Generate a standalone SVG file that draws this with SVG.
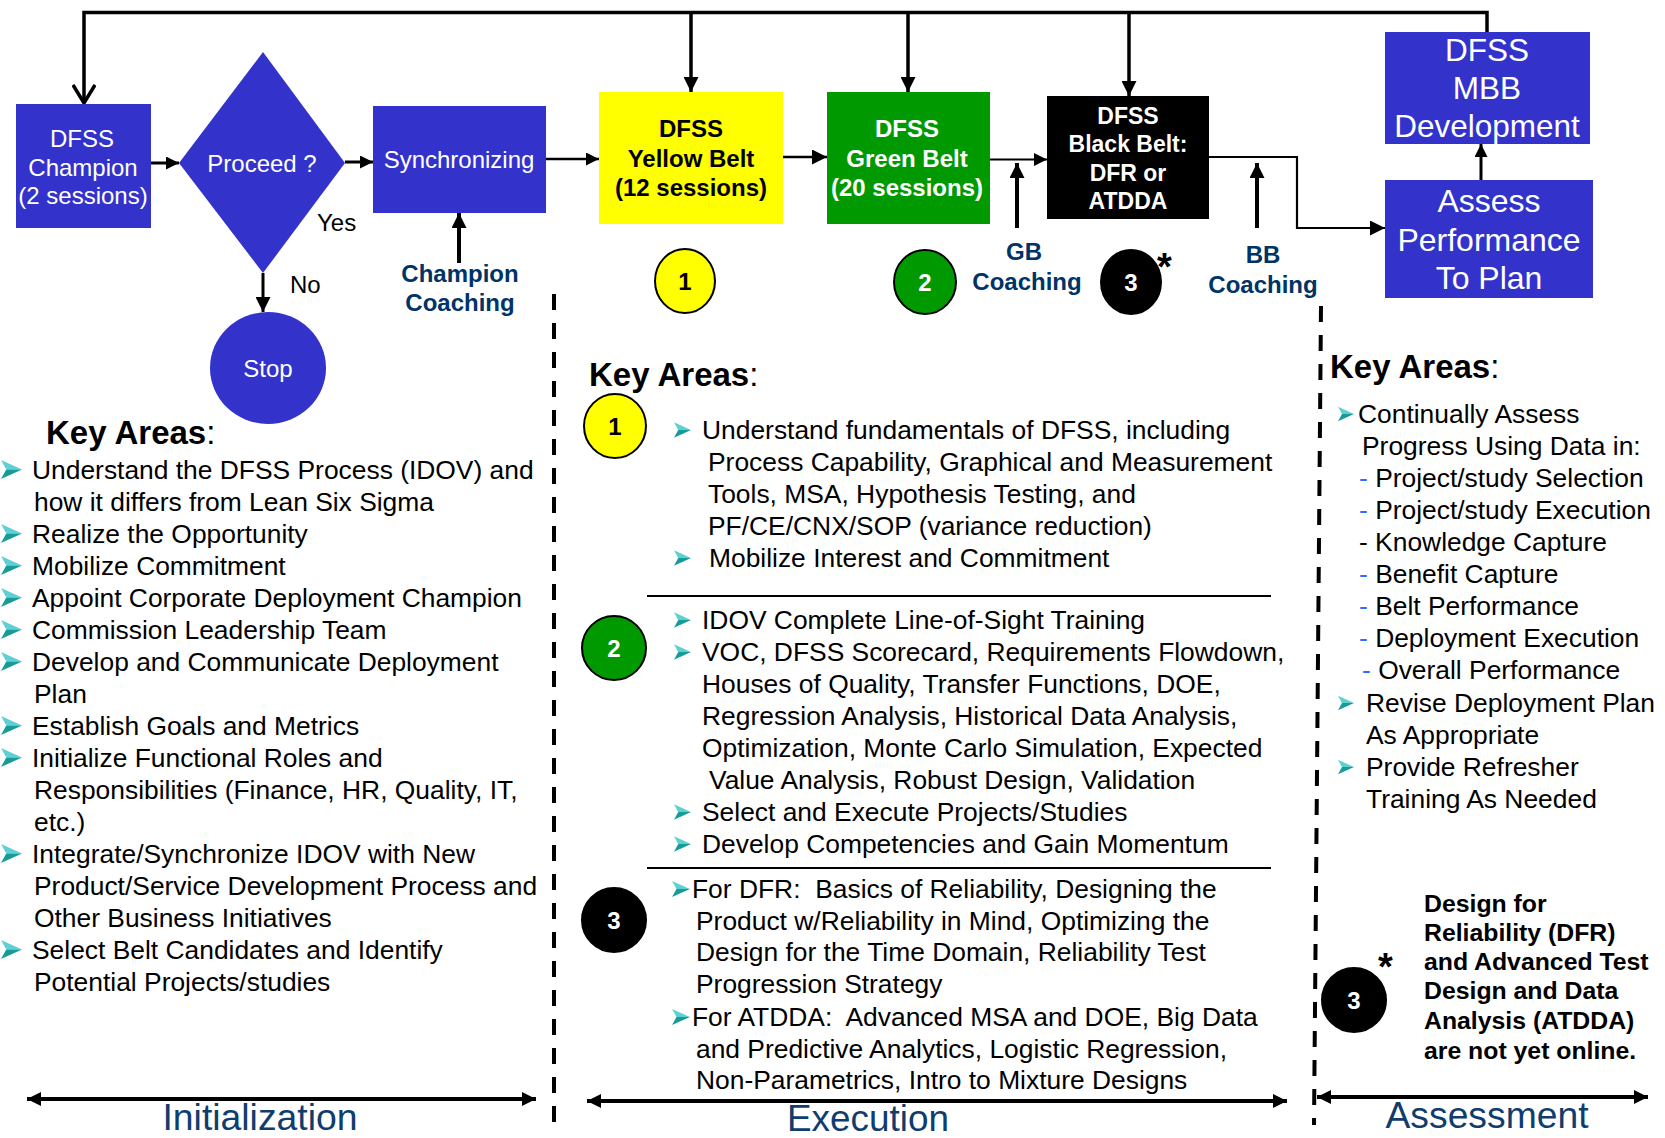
<svg xmlns="http://www.w3.org/2000/svg" xmlns:xlink="http://www.w3.org/1999/xlink" width="1665" height="1138" viewBox="0 0 1665 1138">
  <style>
    text { font-family: "Liberation Sans", Arial, Helvetica, sans-serif; }
    .blue { fill: #3333CC; }
    .w { fill: #FFFFFF; }
    .node24 { font-size: 24px; }
    .node32 { font-size: 31.5px; }
    .b { font-weight: bold; }
    .mid { text-anchor: middle; }
    .coach { font-size: 24px; font-weight: bold; fill: #003366; text-anchor: middle; }
    .body { font-size: 26.4px; fill: #000; }
    .key { font-size: 33px; font-weight: bold; fill: #000; }
    .note { font-size: 24.8px; font-weight: bold; fill: #000; }
    .phase { font-size: 36px; fill: #0F3D6E; text-anchor: middle; }
    .dash { fill: #3366FF; }
    .conn { fill: none; stroke: #000; }
    .badge { stroke: #000; stroke-width: 2; }
    .num { font-size: 24px; font-weight: bold; text-anchor: middle; }
    .star { font-size: 38px; font-weight: bold; fill: #000; }
    .divider { stroke: #000; stroke-width: 4; stroke-dasharray: 16 13; fill: none; }
  </style>
  <defs>
    <marker id="tri" viewBox="0 0 10 10" refX="10" refY="5" markerUnits="userSpaceOnUse" markerWidth="15" markerHeight="15" orient="auto">
      <path d="M0,0 L10,5 L0,10 z" fill="#000"/>
    </marker>
    <marker id="triS" viewBox="0 0 10 10" refX="10" refY="5" markerUnits="userSpaceOnUse" markerWidth="13" markerHeight="13" orient="auto">
      <path d="M0,0 L10,5 L0,10 z" fill="#000"/>
    </marker>
    <marker id="vee" viewBox="0 0 20 24" refX="19" refY="12" markerUnits="userSpaceOnUse" markerWidth="20" markerHeight="24" orient="auto">
      <path d="M1,1 L19,12 L1,23" fill="none" stroke="#000" stroke-width="3.5"/>
    </marker>
    <marker id="span" viewBox="0 0 10 10" refX="10" refY="5" markerUnits="userSpaceOnUse" markerWidth="14" markerHeight="14" orient="auto-start-reverse">
      <path d="M0,0 L10,5 L0,10 z" fill="#000"/>
    </marker>
    <symbol id="bul" viewBox="0 0 20 18">
      <polygon points="0,0 20,9 5,9" fill="#5FD0D0"/>
      <polygon points="5,9 20,9 0,18" fill="#179A9A"/>
    </symbol>
  </defs>

  <!-- connectors -->
  <g id="connectors">
    <polyline class="conn" stroke-width="3.5" points="1487,32 1487,12.5 84,12.5 84,103" marker-end="url(#vee)"/>
    <line class="conn" stroke-width="3.5" x1="691" y1="12.5" x2="691" y2="92" marker-end="url(#tri)"/>
    <line class="conn" stroke-width="3.5" x1="908" y1="12.5" x2="908" y2="92" marker-end="url(#tri)"/>
    <line class="conn" stroke-width="3.5" x1="1129" y1="12.5" x2="1129" y2="96" marker-end="url(#tri)"/>
    <line class="conn" stroke-width="3" x1="151" y1="163" x2="179" y2="163" marker-end="url(#triS)"/>
    <line class="conn" stroke-width="3" x1="345" y1="162" x2="373" y2="162" marker-end="url(#triS)"/>
    <line class="conn" stroke-width="3" x1="263" y1="273" x2="263" y2="312" marker-end="url(#tri)"/>
    <line class="conn" stroke-width="2.5" x1="546" y1="159" x2="599" y2="159" marker-end="url(#triS)"/>
    <line class="conn" stroke-width="2.5" x1="783" y1="157" x2="827" y2="157" marker-end="url(#tri)"/>
    <line class="conn" stroke-width="2" x1="990" y1="159.5" x2="1047" y2="159.5" marker-end="url(#triS)"/>
    <polyline class="conn" stroke-width="2.2" points="1209,157 1297,157 1297,228 1385,228" marker-end="url(#tri)"/>
    <line class="conn" stroke-width="3" x1="1481" y1="181" x2="1481" y2="144" marker-end="url(#triS)"/>
    <line class="conn" stroke-width="4" x1="459" y1="263" x2="459" y2="213" marker-end="url(#tri)"/>
    <line class="conn" stroke-width="4" x1="1017" y1="228" x2="1017" y2="163" marker-end="url(#tri)"/>
    <line class="conn" stroke-width="4" x1="1257" y1="228" x2="1257" y2="163" marker-end="url(#tri)"/>
  </g>

  <!-- flow nodes -->
  <g id="champion">
    <rect class="blue" x="16" y="104" width="135" height="124"/>
    <text class="w node24 mid" x="82" y="147">DFSS</text>
    <text class="w node24 mid" x="83" y="176">Champion</text>
    <text class="w node24 mid" x="83" y="204">(2 sessions)</text>
  </g>
  <g id="proceed">
    <polygon class="blue" points="263,52 345,163 263,273 179,163"/>
    <text class="w node24 mid" x="262" y="172">Proceed ?</text>
    <text class="node24" x="317" y="231">Yes</text>
    <text class="node24" x="290" y="293">No</text>
  </g>
  <g id="stop">
    <ellipse class="blue" cx="268" cy="368" rx="58" ry="56"/>
    <text class="w node24 mid" x="268" y="377">Stop</text>
  </g>
  <g id="synchronizing">
    <rect class="blue" x="373" y="106" width="173" height="107"/>
    <text class="w node24 mid" x="459" y="168">Synchronizing</text>
  </g>
  <g id="champion-coaching">
    <text class="coach" x="460" y="282">Champion</text>
    <text class="coach" x="460" y="311">Coaching</text>
  </g>
  <g id="yellow-belt">
    <rect x="599" y="92" width="184" height="132" fill="#FFFF00"/>
    <text class="node24 b mid" x="691" y="137">DFSS</text>
    <text class="node24 b mid" x="691" y="167">Yellow Belt</text>
    <text class="node24 b mid" x="691" y="196">(12 sessions)</text>
  </g>
  <g id="green-belt">
    <rect x="827" y="92" width="163" height="132" fill="#009900"/>
    <text class="w node24 b mid" x="907" y="137">DFSS</text>
    <text class="w node24 b mid" x="907" y="167">Green Belt</text>
    <text class="w node24 b mid" x="907" y="196">(20 sessions)</text>
  </g>
  <g id="gb-coaching">
    <text class="coach" x="1024" y="260">GB</text>
    <text class="coach" x="1027" y="290">Coaching</text>
  </g>
  <g id="black-belt">
    <rect x="1047" y="96" width="162" height="123" fill="#000"/>
    <text class="w b mid" font-size="23" x="1128" y="124">DFSS</text>
    <text class="w b mid" font-size="23" x="1128" y="152">Black Belt:</text>
    <text class="w b mid" font-size="23" x="1128" y="181">DFR or</text>
    <text class="w b mid" font-size="23" x="1128" y="209">ATDDA</text>
  </g>
  <g id="bb-coaching">
    <text class="coach" x="1263" y="263">BB</text>
    <text class="coach" x="1263" y="293">Coaching</text>
  </g>
  <g id="mbb-development">
    <rect class="blue" x="1385" y="32" width="205" height="112"/>
    <text class="w node32 mid" x="1487" y="61">DFSS</text>
    <text class="w node32 mid" x="1487" y="99">MBB</text>
    <text class="w node32 mid" x="1487" y="137">Development</text>
  </g>
  <g id="assess-performance">
    <rect class="blue" x="1385" y="180" width="208" height="118"/>
    <text class="w mid" font-size="32" x="1489" y="212">Assess</text>
    <text class="w mid" font-size="32" x="1489" y="251">Performance</text>
    <text class="w mid" font-size="32" x="1489" y="289">To Plan</text>
  </g>

  <!-- level badges under the belts -->
  <g id="badge-1-top">
    <ellipse class="badge" cx="685" cy="281" rx="30" ry="32" fill="#FFFF00"/>
    <text class="num" x="685" y="290">1</text>
  </g>
  <g id="badge-2-top">
    <ellipse class="badge" cx="925" cy="282" rx="31" ry="32" fill="#009900"/>
    <text class="num w" x="925" y="291">2</text>
  </g>
  <g id="badge-3-top">
    <ellipse class="badge" cx="1131" cy="282" rx="30" ry="32" fill="#000"/>
    <text class="num w" x="1131" y="291">3</text>
    <text class="star" x="1157" y="280">*</text>
  </g>

  <!-- phase dividers -->
  <line class="divider" x1="554" y1="294" x2="554" y2="1125"/>
  <line class="divider" x1="1321" y1="306" x2="1314" y2="1125"/>

  <!-- Initialization key areas -->
  <g id="initialization-areas">
    <text class="key" x="46" y="444">Key Areas<tspan font-weight="normal">:</tspan></text>
    <use href="#bul" x="1" y="460" width="21" height="19"/>
    <text class="body" x="32" y="479">Understand the DFSS Process (IDOV) and</text>
    <text class="body" x="34" y="511">how it differs from Lean Six Sigma</text>
    <use href="#bul" x="1" y="524" width="21" height="19"/>
    <text class="body" x="32" y="543">Realize the Opportunity</text>
    <use href="#bul" x="1" y="556" width="21" height="19"/>
    <text class="body" x="32" y="575">Mobilize Commitment</text>
    <use href="#bul" x="1" y="588" width="21" height="19"/>
    <text class="body" x="32" y="607">Appoint Corporate Deployment Champion</text>
    <use href="#bul" x="1" y="620" width="21" height="19"/>
    <text class="body" x="32" y="639">Commission Leadership Team</text>
    <use href="#bul" x="1" y="652" width="21" height="19"/>
    <text class="body" x="32" y="671">Develop and Communicate Deployment</text>
    <text class="body" x="34" y="703">Plan</text>
    <use href="#bul" x="1" y="716" width="21" height="19"/>
    <text class="body" x="32" y="735">Establish Goals and Metrics</text>
    <use href="#bul" x="1" y="748" width="21" height="19"/>
    <text class="body" x="32" y="767">Initialize Functional Roles and</text>
    <text class="body" x="34" y="799">Responsibilities (Finance, HR, Quality, IT,</text>
    <text class="body" x="34" y="831">etc.)</text>
    <use href="#bul" x="1" y="844" width="21" height="19"/>
    <text class="body" x="32" y="863">Integrate/Synchronize IDOV with New</text>
    <text class="body" x="34" y="895">Product/Service Development Process and</text>
    <text class="body" x="34" y="927">Other Business Initiatives</text>
    <use href="#bul" x="1" y="940" width="21" height="19"/>
    <text class="body" x="32" y="959">Select Belt Candidates and Identify</text>
    <text class="body" x="34" y="991">Potential Projects/studies</text>
  </g>

  <!-- Execution key areas -->
  <g id="execution-areas">
    <text class="key" x="589" y="386">Key Areas<tspan font-weight="normal">:</tspan></text>
    <g id="badge-1">
      <ellipse class="badge" cx="615" cy="426" rx="31" ry="32" fill="#FFFF00"/>
      <text class="num" x="615" y="435">1</text>
    </g>
    <use href="#bul" x="674" y="421" width="17" height="18"/>
    <text class="body" x="702" y="439">Understand fundamentals of DFSS, including</text>
    <text class="body" x="708" y="471">Process Capability, Graphical and Measurement</text>
    <text class="body" x="708" y="503">Tools, MSA, Hypothesis Testing, and</text>
    <text class="body" x="708" y="535">PF/CE/CNX/SOP (variance reduction)</text>
    <use href="#bul" x="674" y="549" width="17" height="18"/>
    <text class="body" x="709" y="567">Mobilize Interest and Commitment</text>
    <line x1="647" y1="596" x2="1271" y2="596" stroke="#000" stroke-width="2"/>

    <g id="badge-2">
      <ellipse class="badge" cx="614" cy="648" rx="32" ry="32" fill="#009900"/>
      <text class="num w" x="614" y="657">2</text>
    </g>
    <use href="#bul" x="674" y="611" width="17" height="18"/>
    <text class="body" x="702" y="629">IDOV Complete Line-of-Sight Training</text>
    <use href="#bul" x="674" y="643" width="17" height="18"/>
    <text class="body" x="702" y="661">VOC, DFSS Scorecard, Requirements Flowdown,</text>
    <text class="body" x="702" y="693">Houses of Quality, Transfer Functions, DOE,</text>
    <text class="body" x="702" y="725">Regression Analysis, Historical Data Analysis,</text>
    <text class="body" x="702" y="757">Optimization, Monte Carlo Simulation, Expected</text>
    <text class="body" x="709" y="789">Value Analysis, Robust Design, Validation</text>
    <use href="#bul" x="674" y="803" width="17" height="18"/>
    <text class="body" x="702" y="821">Select and Execute Projects/Studies</text>
    <use href="#bul" x="674" y="835" width="17" height="18"/>
    <text class="body" x="702" y="853">Develop Competencies and Gain Momentum</text>
    <line x1="647" y1="868" x2="1271" y2="868" stroke="#000" stroke-width="2"/>

    <g id="badge-3">
      <ellipse class="badge" cx="614" cy="920" rx="32" ry="32" fill="#000"/>
      <text class="num w" x="614" y="929">3</text>
    </g>
    <use href="#bul" x="672" y="880" width="18" height="18"/>
    <text class="body" x="692" y="898">For DFR:&#160; Basics of Reliability, Designing the</text>
    <text class="body" x="696" y="930">Product w/Reliability in Mind, Optimizing the</text>
    <text class="body" x="696" y="961">Design for the Time Domain, Reliability Test</text>
    <text class="body" x="696" y="993">Progression Strategy</text>
    <use href="#bul" x="672" y="1008" width="18" height="18"/>
    <text class="body" x="692" y="1026">For ATDDA:&#160; Advanced MSA and DOE, Big Data</text>
    <text class="body" x="696" y="1058">and Predictive Analytics, Logistic Regression,</text>
    <text class="body" x="696" y="1089">Non-Parametrics, Intro to Mixture Designs</text>
  </g>

  <!-- Assessment key areas -->
  <g id="assessment-areas">
    <text class="key" x="1330" y="378">Key Areas<tspan font-weight="normal">:</tspan></text>
    <use href="#bul" x="1338" y="405" width="16" height="18"/>
    <text class="body" x="1358" y="423">Continually Assess</text>
    <text class="body" x="1362" y="455">Progress Using Data in:</text>
    <text class="body" x="1359" y="487"><tspan class="dash">-</tspan> Project/study Selection</text>
    <text class="body" x="1359" y="519"><tspan class="dash">-</tspan> Project/study Execution</text>
    <text class="body" x="1359" y="551">- Knowledge Capture</text>
    <text class="body" x="1359" y="583"><tspan class="dash">-</tspan> Benefit Capture</text>
    <text class="body" x="1359" y="615"><tspan class="dash">-</tspan> Belt Performance</text>
    <text class="body" x="1359" y="647"><tspan class="dash">-</tspan> Deployment Execution</text>
    <text class="body" x="1362" y="679"><tspan class="dash">-</tspan> Overall Performance</text>
    <use href="#bul" x="1338" y="694" width="16" height="18"/>
    <text class="body" x="1366" y="712">Revise Deployment Plan</text>
    <text class="body" x="1366" y="744">As Appropriate</text>
    <use href="#bul" x="1338" y="758" width="16" height="18"/>
    <text class="body" x="1366" y="776">Provide Refresher</text>
    <text class="body" x="1366" y="808">Training As Needed</text>
  </g>

  <!-- footnote for level 3 -->
  <g id="footnote">
    <ellipse class="badge" cx="1354" cy="1000" rx="32" ry="32" fill="#000"/>
    <text class="num w" x="1354" y="1009">3</text>
    <text class="star" x="1378" y="980">*</text>
    <text class="note" x="1424" y="912">Design for</text>
    <text class="note" x="1424" y="941">Reliability (DFR)</text>
    <text class="note" x="1424" y="970">and Advanced Test</text>
    <text class="note" x="1424" y="999">Design and Data</text>
    <text class="note" x="1424" y="1029">Analysis (ATDDA)</text>
    <text class="note" x="1424" y="1059">are not yet online.</text>
  </g>

  <!-- phase spans -->
  <g id="phases">
    <line class="conn" stroke-width="4" x1="27" y1="1099" x2="536" y2="1099" marker-start="url(#span)" marker-end="url(#span)"/>
    <text class="phase" x="260" y="1130" textLength="195" lengthAdjust="spacingAndGlyphs">Initialization</text>
    <line class="conn" stroke-width="4" x1="587" y1="1101" x2="1287" y2="1101" marker-start="url(#span)" marker-end="url(#span)"/>
    <text class="phase" x="868" y="1130.5" textLength="162" lengthAdjust="spacingAndGlyphs">Execution</text>
    <line class="conn" stroke-width="4" x1="1317" y1="1097" x2="1648" y2="1097" marker-start="url(#span)" marker-end="url(#span)"/>
    <text class="phase" x="1487" y="1128" textLength="203" lengthAdjust="spacingAndGlyphs">Assessment</text>
  </g>
</svg>
